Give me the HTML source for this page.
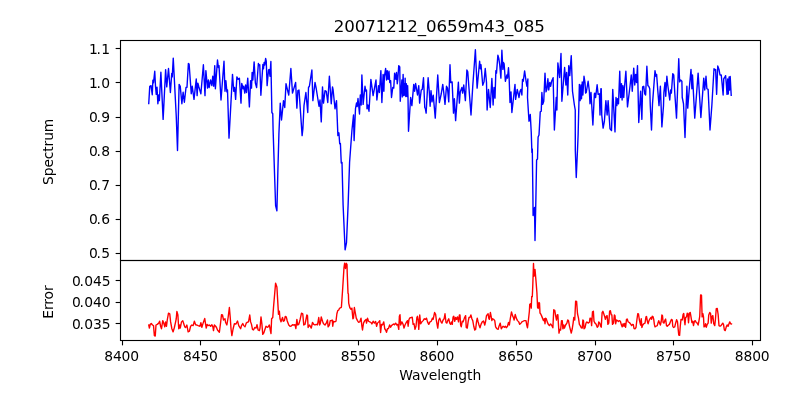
<!DOCTYPE html>
<html><head><meta charset="utf-8"><title>20071212_0659m43_085</title>
<style>html,body{margin:0;padding:0;background:#fff}body{width:800px;height:400px;overflow:hidden}</style></head>
<body>
<svg width="800" height="400" viewBox="0 0 800 400" style="display:block">
<rect width="800" height="400" fill="#fff"/>
<g font-family="'DejaVu Sans', 'Liberation Sans', sans-serif" fill="#000">
<g stroke="#000" stroke-width="1.11" fill="none">
<path d="M122.50 340.5v4.86"/>
<path d="M200.50 340.5v4.86"/>
<path d="M279.50 340.5v4.86"/>
<path d="M358.50 340.5v4.86"/>
<path d="M437.50 340.5v4.86"/>
<path d="M516.50 340.5v4.86"/>
<path d="M595.50 340.5v4.86"/>
<path d="M673.50 340.5v4.86"/>
<path d="M752.50 340.5v4.86"/>
<path d="M120.5 253.50h-4.86"/>
<path d="M120.5 219.50h-4.86"/>
<path d="M120.5 185.50h-4.86"/>
<path d="M120.5 151.50h-4.86"/>
<path d="M120.5 117.50h-4.86"/>
<path d="M120.5 82.50h-4.86"/>
<path d="M120.5 48.50h-4.86"/>
<path d="M120.5 323.50h-4.86"/>
<path d="M120.5 302.50h-4.86"/>
<path d="M120.5 280.50h-4.86"/>
</g>
<g font-size="13.89">
<text x="121.65" y="361.0" dx="0 -0.17 -0.17 -0.17" text-anchor="middle">8400</text>
<text x="200.48" y="361.0" dx="0 -0.17 -0.17 -0.17" text-anchor="middle">8450</text>
<text x="279.30" y="361.0" dx="0 -0.17 -0.17 -0.17" text-anchor="middle">8500</text>
<text x="358.12" y="361.0" dx="0 -0.17 -0.17 -0.17" text-anchor="middle">8550</text>
<text x="436.95" y="361.0" dx="0 -0.17 -0.17 -0.17" text-anchor="middle">8600</text>
<text x="515.77" y="361.0" dx="0 -0.17 -0.17 -0.17" text-anchor="middle">8650</text>
<text x="594.60" y="361.0" dx="0 -0.17 -0.17 -0.17" text-anchor="middle">8700</text>
<text x="673.42" y="361.0" dx="0 -0.17 -0.17 -0.17" text-anchor="middle">8750</text>
<text x="752.25" y="361.0" dx="0 -0.17 -0.17 -0.17" text-anchor="middle">8800</text>
<text x="110.0" y="258.00" dx="0 -1.3 0.3" text-anchor="end">0.5</text>
<text x="110.0" y="224.00" dx="0 -1.3 0.3" text-anchor="end">0.6</text>
<text x="110.0" y="190.00" dx="0 -1.3 0.3" text-anchor="end">0.7</text>
<text x="110.0" y="156.00" dx="0 -1.3 0.3" text-anchor="end">0.8</text>
<text x="110.0" y="122.00" dx="0 -1.3 0.3" text-anchor="end">0.9</text>
<text x="110.0" y="88.00" dx="0 -1.3 0.3" text-anchor="end">1.0</text>
<text x="110.0" y="54.00" dx="0 -1.3 0.3" text-anchor="end">1.1</text>
<text x="110.55" y="329.00" dx="0 -1.3 0.3 -0.07 -0.07" text-anchor="end">0.035</text>
<text x="110.55" y="307.00" dx="0 -1.3 0.3 -0.07 -0.07" text-anchor="end">0.040</text>
<text x="110.55" y="286.00" dx="0 -1.3 0.3 -0.07 -0.07" text-anchor="end">0.045</text>
<text x="440.2" y="379.8" text-anchor="middle" textLength="82.0" lengthAdjust="spacing">Wavelength</text>
<text transform="translate(52.5 151.8) rotate(-90)" text-anchor="middle" textLength="66.3" lengthAdjust="spacing">Spectrum</text>
<text transform="translate(52.5 302) rotate(-90)" text-anchor="middle" textLength="33.5" lengthAdjust="spacing">Error</text>
</g>
<text x="439.3" y="32.0" font-size="16.67" text-anchor="middle" textLength="211.0" lengthAdjust="spacing">20071212_0659m43_085</text>
</g>
<polyline points="148.75,103.50 149.75,86.25 151.00,85.62 152.25,94.75 152.88,80.25 153.50,82.75 154.75,71.25 155.50,86.25 156.25,94.38 157.00,87.12 157.88,103.75 158.75,95.00 159.38,100.62 160.88,72.25 163.12,119.38 165.62,69.62 166.75,86.88 168.50,68.50 170.38,92.50 171.75,73.38 172.25,76.88 173.25,58.12 176.25,116.25 177.50,150.50 179.12,84.38 180.25,86.25 181.88,103.75 183.12,92.25 184.38,102.25 186.00,87.50 187.00,87.25 188.38,63.50 189.12,64.00 191.25,93.75 192.25,86.25 194.00,99.38 196.25,79.00 197.12,95.62 197.88,83.12 198.75,86.50 200.88,93.75 203.38,64.75 205.00,95.62 205.88,70.62 207.50,88.12 208.38,80.00 209.12,87.50 210.62,80.00 211.88,85.62 212.75,76.25 213.75,86.25 214.75,65.62 215.38,88.75 217.50,60.00 218.38,67.50 219.00,65.62 221.00,100.00 224.00,61.25 225.00,91.25 225.88,80.62 226.88,91.88 227.50,90.00 229.00,138.12 232.50,74.38 233.75,91.25 234.62,87.50 235.62,99.38 236.88,76.88 238.12,79.38 239.38,78.12 241.00,103.12 241.75,83.50 243.12,88.75 243.75,86.25 244.75,93.12 245.62,85.00 246.50,92.50 247.75,78.12 249.38,106.88 250.62,80.62 251.50,88.12 252.12,72.50 252.88,80.00 254.12,61.88 255.38,83.12 256.62,87.50 258.38,63.50 259.00,65.62 259.75,64.75 260.88,95.25 262.88,64.38 263.50,68.75 264.12,62.50 264.75,65.00 265.62,58.50 266.25,61.25 267.12,85.62 268.50,70.00 269.12,69.38 270.00,76.25 270.88,61.50 271.88,112.50 272.75,113.75 273.10,130.00 274.75,180.00 275.60,205.50 276.90,210.80 277.90,170.00 278.90,134.00 280.25,103.12 281.50,120.00 283.50,100.62 284.75,107.50 286.00,83.75 286.88,87.50 288.75,95.00 290.88,68.50 292.50,93.12 295.62,82.50 296.88,108.12 297.88,90.62 299.00,90.00 302.12,135.62 302.88,128.75 304.00,105.62 305.88,92.50 307.75,112.50 308.50,87.50 309.38,86.25 311.88,70.00 312.88,100.62 315.00,82.50 316.25,88.75 319.00,106.25 320.00,100.00 321.25,121.88 322.50,86.88 323.50,103.12 325.00,90.62 326.25,91.25 327.75,102.50 329.38,76.25 331.25,103.75 332.50,86.88 333.12,90.00 335.00,108.75 336.50,100.62 337.90,135.60 338.90,132.80 339.70,143.75 340.40,143.50 341.25,163.00 342.00,162.50 343.10,205.00 345.10,249.80 346.50,242.50 348.10,205.00 349.60,162.00 351.90,130.80 353.50,115.00 354.10,140.60 355.50,108.50 356.50,103.00 357.20,106.50 358.00,98.50 359.50,114.00 360.30,95.00 361.20,105.00 361.88,75.00 363.12,104.38 365.00,86.25 365.88,91.25 366.50,90.00 367.00,108.75 367.88,105.00 369.00,111.25 370.88,79.38 373.12,95.62 376.00,80.00 376.88,100.00 378.50,85.62 379.38,92.50 380.88,70.62 381.88,102.50 383.12,74.38 383.88,91.25 384.38,76.88 385.62,68.50 386.50,80.00 387.25,70.62 388.12,79.38 389.00,71.25 389.75,82.50 390.62,80.62 391.50,97.50 392.75,87.50 393.75,88.12 394.62,73.12 395.88,79.38 396.50,72.50 397.25,83.75 397.75,80.00 398.75,65.62 399.75,66.88 400.25,101.25 401.88,80.00 402.38,96.88 403.12,74.38 403.75,95.62 404.25,83.75 404.75,95.00 405.12,78.12 405.75,96.50 406.38,83.75 407.00,96.50 407.62,85.62 408.00,96.88 408.50,131.25 410.62,97.50 411.88,105.62 413.75,84.38 414.62,91.25 415.62,83.50 416.50,88.75 417.50,95.00 418.75,85.62 419.62,103.12 421.25,90.00 422.25,89.38 423.50,77.75 424.75,107.50 425.38,108.75 426.12,113.12 428.12,77.75 429.25,91.25 430.12,106.25 431.00,90.62 432.00,101.88 433.25,95.25 435.25,118.12 437.75,75.00 439.38,102.50 441.25,93.75 442.75,84.38 443.75,92.50 445.00,104.38 446.50,86.25 447.50,88.12 448.75,101.88 450.00,64.75 450.75,82.50 452.12,81.88 453.50,113.12 454.38,98.75 455.62,120.62 458.38,82.25 459.38,103.12 460.25,91.88 461.88,87.50 462.62,93.12 463.75,85.00 465.38,100.62 466.88,70.00 467.75,71.88 471.00,115.00 472.75,86.25 475.38,49.75 477.12,88.12 479.62,61.25 480.38,68.75 481.00,64.75 482.75,85.25 484.00,81.88 485.25,68.50 486.50,82.50 487.12,110.00 488.50,89.38 490.25,107.50 491.88,78.50 493.12,105.00 494.00,87.50 495.00,98.12 495.88,70.62 496.50,73.12 497.88,55.25 498.75,58.12 499.75,65.00 500.88,78.12 501.88,50.25 502.88,69.38 503.50,62.50 504.12,63.75 505.38,81.25 506.88,75.00 507.50,78.12 508.50,67.75 509.12,77.50 510.00,102.50 511.00,91.88 511.88,112.50 515.00,84.38 515.62,99.38 517.25,89.38 519.00,97.50 520.00,91.25 521.00,89.38 521.88,95.00 522.50,79.38 523.25,81.25 524.62,70.88 526.25,82.50 526.88,86.25 527.88,79.00 527.50,97.50 529.00,121.25 530.25,114.38 531.25,132.50 531.90,152.50 532.30,149.00 532.90,195.00 533.10,215.60 534.50,207.50 535.00,240.60 535.90,198.00 536.60,160.00 537.50,159.00 538.10,137.00 539.00,135.00 540.25,111.88 541.25,111.25 541.88,92.50 542.75,104.38 543.75,101.25 545.00,73.12 546.00,91.88 546.88,89.38 547.88,78.75 548.75,90.00 549.75,82.50 550.62,86.25 551.62,81.25 553.12,77.75 554.38,130.00 556.25,97.50 556.88,110.00 557.88,62.88 559.62,77.50 561.00,53.50 561.88,101.25 564.62,67.50 565.88,85.00 566.62,72.50 567.75,95.00 568.75,65.62 569.75,75.62 571.25,55.62 572.50,91.25 574.38,105.00 575.25,110.00 575.30,150.00 576.25,177.50 577.50,150.00 578.12,135.00 579.38,84.38 580.12,100.62 581.00,85.00 581.50,98.75 582.25,81.88 582.88,95.00 584.00,76.25 585.00,82.50 585.62,93.12 586.25,92.50 588.12,81.25 589.38,91.25 590.00,103.75 591.00,92.50 592.88,125.00 594.38,93.75 594.75,93.12 595.62,97.50 597.12,84.75 598.12,94.38 599.38,93.75 600.00,115.00 600.88,88.75 601.25,88.75 601.75,115.00 603.12,128.12 604.38,121.25 605.88,100.62 607.12,115.00 608.12,100.62 610.00,128.75 611.50,130.62 612.75,89.38 615.00,131.88 616.00,97.50 616.88,105.62 617.50,98.75 618.50,103.75 619.75,71.25 620.60,97.50 621.50,83.75 622.10,100.00 622.90,85.60 623.75,97.50 624.40,88.00 625.88,71.25 627.50,106.88 630.00,86.25 631.25,75.00 632.25,91.25 633.75,68.12 634.75,85.00 635.62,74.38 636.50,82.50 637.50,65.62 638.75,122.50 640.62,91.25 641.88,119.38 642.62,86.88 643.75,86.25 644.75,93.75 645.62,95.00 646.88,66.25 647.88,85.62 648.75,86.25 649.75,88.75 650.25,105.00 651.50,130.00 652.50,103.75 655.00,70.62 655.88,76.25 656.62,74.38 657.75,90.00 659.00,105.62 660.38,86.25 661.88,126.88 663.50,105.62 663.88,92.50 665.00,82.50 665.75,96.25 666.88,76.25 667.75,85.00 669.75,100.00 670.62,90.00 671.38,93.12 672.75,73.75 673.75,75.00 674.75,92.50 676.50,118.12 678.75,58.75 679.62,81.88 680.62,80.00 681.88,81.25 682.25,97.50 683.50,103.75 685.00,137.50 686.00,110.00 686.88,86.25 687.75,108.12 689.38,87.50 691.00,69.38 691.88,88.75 692.50,75.00 694.75,118.12 698.12,73.12 700.88,117.50 703.75,78.12 704.75,90.00 706.00,76.25 706.88,88.75 708.12,89.38 710.00,130.00 711.88,105.00 714.00,68.75 715.00,70.00 715.62,69.38 716.62,94.38 717.75,66.00 719.00,69.38 720.00,75.00 721.25,75.00 722.12,83.75 723.12,95.00 723.75,78.75 724.62,77.50 725.62,75.62 726.50,86.25 727.00,94.38 727.70,79.00 728.30,94.00 729.10,77.00 729.60,90.00 730.20,76.50 731.20,95.30" fill="none" stroke="#0000ff" stroke-width="1.39" stroke-linejoin="round" stroke-linecap="square"/>
<polyline points="148.75,325.00 149.38,328.12 150.25,324.38 151.25,323.50 152.50,325.00 153.50,325.62 154.38,335.62 155.25,336.00 156.00,325.00 157.25,324.38 158.75,323.12 159.62,321.25 160.62,326.25 161.50,328.75 162.75,320.62 163.75,323.12 164.75,326.88 165.62,321.88 166.50,326.25 167.25,320.00 168.50,313.12 169.75,313.75 170.62,321.88 171.88,328.75 173.12,331.88 174.38,327.50 175.62,321.88 176.25,318.75 176.88,311.50 177.88,315.00 178.75,328.75 179.75,325.00 180.25,328.12 181.50,321.88 182.75,320.62 183.75,323.75 184.75,326.88 185.62,327.50 186.88,325.00 188.12,331.88 189.38,331.25 190.62,326.25 191.88,325.00 193.12,325.62 194.38,321.25 195.62,324.75 196.88,325.00 198.12,325.62 200.00,326.25 200.88,322.75 201.88,327.25 203.12,323.12 204.75,318.50 205.62,324.38 206.25,328.12 207.12,324.38 208.12,325.62 209.38,325.00 210.62,326.25 211.88,324.75 212.88,326.88 213.50,330.62 214.38,325.00 215.62,326.25 216.50,327.50 217.50,330.00 219.38,332.25 220.62,322.50 221.50,314.75 222.50,315.00 223.50,320.00 225.00,318.75 225.62,322.50 226.88,325.00 228.12,317.50 229.38,307.50 230.25,317.50 231.00,328.75 231.88,335.62 233.12,328.75 234.38,323.75 236.00,324.00 237.50,321.00 238.75,325.62 240.62,328.75 241.50,325.62 242.75,323.50 243.75,325.62 245.00,326.88 246.25,323.12 247.25,322.25 248.50,321.88 249.75,315.00 250.62,321.88 251.50,324.38 252.50,329.38 253.50,330.00 254.75,327.50 256.00,328.12 257.00,324.75 258.12,330.00 259.38,330.62 260.00,328.12 261.00,316.88 261.88,323.75 262.75,334.38 263.75,333.12 264.75,330.00 266.00,326.25 267.25,327.25 268.12,326.88 269.38,325.00 270.38,330.62 271.00,333.50 271.62,318.75 272.75,317.50 273.50,307.50 275.60,283.10 276.90,287.00 278.50,314.38 279.38,311.25 280.00,318.75 281.00,321.88 281.62,320.00 282.50,317.50 283.38,321.25 284.38,320.62 285.25,316.50 286.25,316.88 287.25,321.00 288.75,325.00 290.00,326.25 291.25,326.00 292.50,324.75 293.75,325.00 295.00,324.75 295.88,328.50 296.88,319.38 297.75,325.00 298.75,324.38 300.00,320.00 301.50,313.12 302.75,313.75 303.75,325.00 305.00,324.38 305.88,320.00 306.88,315.00 307.50,315.62 308.12,327.50 309.38,325.00 310.25,326.25 311.25,328.12 312.50,322.50 313.75,324.38 315.00,325.00 316.25,324.38 317.50,324.75 318.75,317.50 319.62,325.00 320.38,323.12 321.25,316.88 322.50,321.25 323.50,323.75 325.00,325.00 326.25,323.12 327.50,320.00 328.12,326.88 329.38,325.00 330.25,320.62 331.25,320.62 332.25,320.00 332.75,326.25 333.50,321.25 334.75,321.88 336.00,321.25 336.88,313.75 337.75,310.62 338.75,310.00 339.40,308.50 340.30,307.80 341.40,307.30 342.50,291.25 344.00,267.50 344.60,263.30 345.50,268.50 346.20,263.30 347.00,264.50 347.20,272.50 348.00,293.10 348.40,294.00 348.70,303.10 349.75,307.50 351.00,309.38 351.88,308.12 352.88,318.75 353.50,318.12 354.38,307.50 355.25,312.50 356.25,318.12 357.50,320.62 358.50,322.25 359.75,321.88 361.00,318.12 361.88,326.25 362.50,330.00 363.50,323.12 364.75,320.62 366.00,319.38 366.50,323.12 367.50,318.12 368.50,321.25 369.75,321.88 371.00,322.50 371.88,324.00 373.12,321.25 374.38,323.12 375.62,321.50 376.62,326.25 377.50,323.12 378.75,321.88 379.75,320.62 380.62,332.50 381.50,324.38 382.50,325.00 383.75,321.88 384.75,328.75 385.62,330.00 386.50,332.25 387.50,328.75 388.50,328.50 389.62,325.00 390.62,327.25 391.50,325.62 392.50,324.75 393.50,324.00 394.38,324.75 395.62,323.12 396.88,325.00 397.75,324.38 398.75,329.38 399.38,316.25 400.00,314.75 400.62,325.00 401.88,321.88 403.12,324.38 404.00,328.12 405.00,325.00 406.25,322.50 407.50,320.62 408.12,326.25 409.00,319.38 410.00,317.75 411.25,317.50 412.25,317.25 413.12,324.38 414.00,323.75 415.00,329.38 416.00,326.25 416.88,317.50 417.50,316.25 418.12,320.00 418.75,329.38 419.75,315.00 420.62,323.75 421.88,321.88 423.12,320.62 424.38,318.75 425.62,319.38 426.50,318.12 427.50,321.88 428.75,324.38 430.00,321.88 431.25,321.25 432.50,318.12 433.12,319.38 434.62,312.50 435.62,314.38 436.50,321.25 437.75,328.12 438.75,320.00 439.75,318.12 441.00,321.88 441.88,323.12 443.12,320.00 444.12,318.75 445.00,313.75 446.00,322.50 446.88,323.12 447.75,320.62 448.75,318.75 449.75,323.12 450.62,324.38 451.50,321.88 452.25,324.38 453.12,316.88 453.75,316.25 454.75,321.25 455.62,317.50 456.50,319.38 457.50,316.88 458.50,321.88 459.38,315.00 460.00,315.00 460.62,325.00 461.25,326.88 462.25,321.25 463.12,321.88 464.38,318.12 465.62,315.62 466.25,327.50 467.25,328.12 468.12,321.88 469.00,317.50 470.00,317.25 470.88,315.00 471.88,318.75 472.75,320.62 473.75,326.25 474.75,330.00 475.62,329.38 476.50,321.88 477.25,318.12 478.12,321.88 479.00,325.00 480.00,327.75 481.00,324.38 482.25,321.88 483.50,321.00 484.75,325.00 485.62,321.25 486.50,315.62 487.25,314.75 488.12,313.75 488.75,318.12 489.38,319.38 490.38,312.50 491.25,316.88 491.88,320.62 492.50,318.75 493.75,319.38 494.75,320.62 495.62,326.88 496.88,328.75 498.12,329.38 499.00,326.25 500.25,323.12 501.25,328.75 502.25,327.25 503.12,326.25 504.38,327.25 505.38,326.25 506.25,327.75 507.50,326.25 508.50,322.50 509.38,325.00 510.25,318.75 511.50,311.88 512.50,315.62 513.38,317.50 514.12,320.00 515.25,314.38 516.25,318.12 517.50,320.62 518.75,321.88 519.75,324.38 521.00,323.12 521.88,321.88 523.12,321.25 524.38,320.62 526.00,320.62 526.88,325.62 527.50,327.75 528.50,319.38 529.38,311.25 529.75,304.38 530.62,303.75 531.25,308.12 531.70,296.50 532.30,296.80 532.80,285.00 533.50,263.50 534.00,276.25 535.00,269.40 536.00,281.00 536.90,292.50 537.60,307.50 538.20,308.50 538.90,302.50 539.50,303.00 540.00,313.10 540.62,313.75 541.50,315.62 542.50,318.12 543.50,320.62 544.38,318.75 545.00,323.75 545.62,318.12 546.25,318.75 547.25,321.88 548.12,324.00 549.38,325.62 550.62,324.00 551.88,325.62 552.88,327.75 553.75,309.75 554.75,310.25 555.62,315.62 556.50,320.00 557.25,315.00 557.88,314.75 558.50,325.00 559.00,333.12 559.75,329.38 560.62,330.00 561.50,320.62 562.25,320.62 562.88,328.75 563.75,325.00 564.38,328.12 565.62,325.00 566.88,323.12 567.75,320.00 568.50,320.62 569.38,325.62 570.00,328.12 571.25,333.12 572.25,328.75 573.12,323.12 573.75,317.50 574.75,320.00 575.62,301.25 576.62,301.50 577.50,313.75 578.50,318.12 579.38,324.38 580.25,325.62 581.25,327.75 582.25,328.12 582.88,320.00 583.50,320.62 584.00,328.75 585.00,327.75 586.00,323.12 586.88,321.88 588.12,323.12 589.38,322.25 590.00,318.12 591.00,318.50 591.62,325.62 592.50,311.88 593.38,311.25 594.00,321.25 595.00,323.12 596.00,324.00 597.25,327.25 598.12,326.25 598.75,321.88 599.75,323.12 600.62,326.25 601.25,327.25 602.12,312.50 602.88,311.25 603.75,313.75 604.75,316.88 605.38,319.38 606.25,316.25 607.12,315.62 607.88,324.38 608.75,323.12 609.62,311.25 610.38,310.62 611.25,314.75 611.88,315.00 612.50,324.38 613.50,323.12 614.38,315.00 615.00,315.62 615.62,323.75 616.50,320.00 617.50,320.62 618.50,321.50 619.38,320.62 620.38,321.25 621.25,324.38 622.25,326.88 623.12,323.75 624.00,326.25 624.75,323.50 625.62,327.25 626.50,319.38 627.25,319.00 628.12,321.88 629.38,322.50 630.62,324.00 631.62,325.62 632.50,324.38 633.38,324.75 634.00,328.50 635.00,328.75 636.00,327.50 636.88,320.00 637.75,313.75 638.50,314.00 639.38,320.00 640.62,325.00 641.25,318.75 641.88,327.50 642.75,325.00 643.75,323.75 645.00,323.12 646.00,316.88 646.50,316.50 647.50,321.88 648.12,323.75 649.00,320.62 650.00,318.75 651.00,317.50 651.62,319.38 652.25,316.25 653.12,316.88 653.75,319.38 654.38,324.38 655.00,326.88 656.00,326.25 657.25,325.62 658.12,322.50 658.75,320.62 659.62,323.12 660.38,325.00 661.25,321.25 661.88,315.00 662.50,315.62 663.12,322.50 664.00,323.12 665.00,320.00 665.62,319.00 666.50,325.62 667.25,326.25 668.50,325.00 669.38,324.38 670.62,321.25 671.50,319.38 672.25,320.00 672.75,326.25 673.50,327.50 674.75,326.88 675.62,323.12 676.62,319.75 677.50,321.88 678.12,328.75 678.75,335.00 679.62,335.25 680.25,326.25 681.00,319.38 682.25,320.00 683.12,314.38 683.75,313.50 684.38,320.00 685.00,324.75 685.62,317.50 686.50,316.88 687.25,313.12 687.88,313.75 688.50,322.75 689.38,313.12 690.25,312.50 691.00,316.88 691.88,322.50 692.75,321.25 693.50,325.62 694.38,321.25 695.25,320.62 696.25,322.50 697.25,323.12 698.12,325.00 699.00,320.62 699.75,316.25 700.62,295.00 701.50,295.25 702.12,316.88 702.88,313.75 703.50,316.88 704.00,326.88 705.00,326.25 705.62,323.75 706.25,327.25 707.25,324.38 708.12,323.12 708.75,315.00 709.75,312.50 710.62,313.75 711.25,323.12 712.12,316.25 712.88,315.62 713.75,323.75 714.75,325.62 715.38,320.00 716.25,308.75 717.25,308.50 718.12,314.38 719.00,325.62 720.00,326.25 721.00,325.62 721.88,324.38 722.75,323.12 723.50,324.38 724.38,330.00 725.25,330.62 726.25,326.88 727.12,325.00 728.12,326.25 729.00,323.75 729.75,321.88 730.62,323.75 731.50,324.00" fill="none" stroke="#ff0000" stroke-width="1.39" stroke-linejoin="round" stroke-linecap="square"/>
<g stroke="#000" stroke-width="1.11" fill="none" stroke-linecap="square"><rect x="120.5" y="40.5" width="640.0" height="220.0"/><rect x="120.5" y="260.5" width="640.0" height="80.0"/></g>
</svg>
</body></html>
